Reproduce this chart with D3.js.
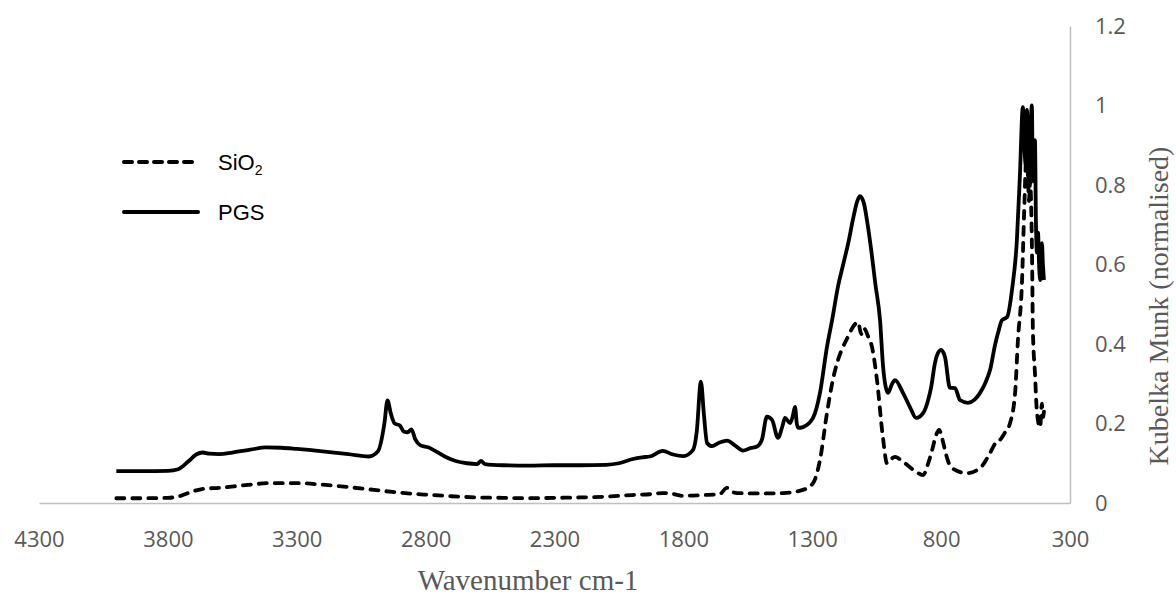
<!DOCTYPE html>
<html>
<head>
<meta charset="utf-8">
<script src="https://cdn.jsdelivr.net/npm/d3@7"></script>
<style>
  body { margin: 0; background: #fff; }
  svg { display: block; }
</style>
</head>
<body>
<svg id="chart" width="1176" height="597"></svg>
<script>
// Diffuse-reflectance spectra, Kubelka-Munk (normalised) vs wavenumber (cm-1)
const pgsWavenumber = [4000, 3900, 3800, 3760, 3720, 3690, 3665, 3640, 3600, 3550, 3480, 3420, 3360, 3300, 3200, 3100, 3020, 2985, 2960, 2948, 2935, 2920, 2900, 2885, 2870, 2855, 2840, 2820, 2790, 2760, 2720, 2680, 2640, 2600, 2585, 2570, 2500, 2400, 2300, 2200, 2100, 2050, 2000, 1960, 1930, 1880, 1840, 1800, 1763, 1748, 1732, 1720, 1708, 1689, 1660, 1631, 1600, 1569, 1540, 1514, 1495, 1476, 1456, 1433, 1415, 1406, 1386, 1375, 1367, 1360, 1355, 1336, 1297, 1270, 1243, 1223, 1200, 1180, 1160, 1140, 1125, 1115, 1100, 1085, 1070, 1055, 1037, 1025, 1006, 990, 979, 948, 920, 897, 870, 850, 839, 824, 810, 800, 785, 766, 746, 727, 696, 670, 649, 630, 610, 590, 579, 564, 544, 525, 506, 494, 483, 477, 472, 467, 460, 455, 448, 444, 440, 436, 432, 428, 424, 420, 416, 412, 409, 405, 401];
const pgsValue = [0.080, 0.080, 0.081, 0.085, 0.105, 0.122, 0.127, 0.124, 0.123, 0.127, 0.134, 0.140, 0.139, 0.136, 0.130, 0.123, 0.117, 0.130, 0.200, 0.258, 0.225, 0.200, 0.195, 0.180, 0.178, 0.185, 0.160, 0.145, 0.140, 0.130, 0.115, 0.105, 0.100, 0.098, 0.106, 0.098, 0.095, 0.094, 0.095, 0.095, 0.096, 0.100, 0.110, 0.115, 0.117, 0.131, 0.122, 0.118, 0.133, 0.180, 0.305, 0.220, 0.151, 0.143, 0.152, 0.157, 0.145, 0.132, 0.138, 0.142, 0.160, 0.217, 0.209, 0.164, 0.195, 0.214, 0.201, 0.220, 0.242, 0.200, 0.189, 0.191, 0.214, 0.277, 0.392, 0.460, 0.545, 0.600, 0.655, 0.720, 0.760, 0.772, 0.755, 0.700, 0.630, 0.550, 0.460, 0.342, 0.277, 0.300, 0.309, 0.277, 0.240, 0.214, 0.226, 0.260, 0.290, 0.352, 0.380, 0.385, 0.367, 0.290, 0.289, 0.259, 0.252, 0.260, 0.277, 0.300, 0.335, 0.400, 0.428, 0.460, 0.468, 0.536, 0.662, 0.830, 0.996, 0.900, 0.850, 0.989, 0.800, 0.900, 1.000, 0.810, 0.900, 0.913, 0.700, 0.630, 0.680, 0.600, 0.561, 0.640, 0.654, 0.600, 0.561];

const sio2Wavenumber = [4000, 3900, 3800, 3750, 3700, 3660, 3600, 3500, 3400, 3300, 3200, 3100, 3000, 2900, 2800, 2700, 2600, 2500, 2400, 2300, 2200, 2100, 2000, 1930, 1880, 1850, 1801, 1724, 1660, 1631, 1610, 1592, 1500, 1413, 1336, 1297, 1270, 1243, 1220, 1200, 1181, 1160, 1142, 1122, 1110, 1100, 1090, 1084, 1068, 1049, 1026, 1010, 995, 979, 960, 940, 900, 870, 850, 835, 820, 808, 795, 785, 770, 758, 700, 649, 610, 590, 572, 550, 533, 513, 502, 486, 478, 467, 459, 455, 447, 444, 436, 428, 416, 409, 405, 401];
const sio2Value = [0.012, 0.012, 0.013, 0.018, 0.030, 0.036, 0.038, 0.045, 0.050, 0.050, 0.046, 0.040, 0.033, 0.026, 0.021, 0.017, 0.014, 0.013, 0.012, 0.013, 0.014, 0.016, 0.020, 0.022, 0.025, 0.024, 0.018, 0.020, 0.022, 0.038, 0.028, 0.025, 0.024, 0.025, 0.033, 0.050, 0.108, 0.226, 0.310, 0.360, 0.392, 0.420, 0.443, 0.455, 0.425, 0.440, 0.430, 0.420, 0.392, 0.310, 0.166, 0.100, 0.110, 0.116, 0.110, 0.100, 0.080, 0.070, 0.100, 0.133, 0.170, 0.184, 0.160, 0.133, 0.100, 0.088, 0.075, 0.088, 0.126, 0.150, 0.158, 0.180, 0.200, 0.277, 0.410, 0.560, 0.730, 0.900, 0.760, 0.810, 0.610, 0.435, 0.327, 0.226, 0.190, 0.250, 0.216, 0.230];

const xTicks = [4300, 3800, 3300, 2800, 2300, 1800, 1300, 800, 300];
const yTicks = [0, 0.2, 0.4, 0.6, 0.8, 1, 1.2];
const xTitle = "Wavenumber cm-1";
const yTitle = "Kubelka Munk (normalised)";

const svg = d3.select("#chart");
const axisGrey = "#bfbfbf";
const labelGrey = "#595959";

const x = d3.scaleLinear().domain([4300, 300]).range([39, 1070]);
const y = d3.scaleLinear().domain([0, 1.2]).range([503, 26]);

// x axis along the bottom (wavenumber decreasing to the right)
const gx = svg.append("g")
  .attr("transform", `translate(0,${y(0)})`)
  .call(d3.axisBottom(x).tickValues(xTicks).tickSize(0).tickSizeOuter(0).tickPadding(28).tickFormat(d3.format("d")));
gx.select(".domain").attr("stroke", axisGrey).attr("stroke-width", 1.5);
gx.selectAll("text")
  .attr("fill", labelGrey)
  .style("font-family", "'Open Sans', sans-serif")
  .style("font-size", "22px");

// y axis on the right
const gy = svg.append("g")
  .attr("transform", `translate(${x(300)},0)`)
  .call(d3.axisRight(y).tickValues(yTicks).tickSize(0).tickSizeOuter(0).tickPadding(25).tickFormat(d3.format("~g")));
gy.select(".domain").attr("stroke", axisGrey).attr("stroke-width", 1.5);
gy.selectAll("text")
  .attr("fill", labelGrey)
  .style("font-family", "'Open Sans', sans-serif")
  .style("font-size", "22px");

// axis titles
svg.append("text")
  .attr("x", 528).attr("y", 590)
  .attr("text-anchor", "middle")
  .attr("fill", labelGrey)
  .style("font-family", "'Liberation Serif', 'Times New Roman', serif")
  .style("font-size", "29px")
  .text(xTitle);

svg.append("text")
  .attr("transform", `translate(1168,306) rotate(-90)`)
  .attr("text-anchor", "middle")
  .attr("fill", labelGrey)
  .style("font-family", "'Liberation Serif', 'Times New Roman', serif")
  .style("font-size", "28px")
  .text(yTitle);

// spectra
const line = d3.line()
  .x(d => x(d[0]))
  .y(d => y(d[1]))
  .curve(d3.curveMonotoneX);

const sio2Data = sio2Wavenumber.map((w, i) => [w, sio2Value[i]]);
const pgsData = pgsWavenumber.map((w, i) => [w, pgsValue[i]]);

svg.append("path")
  .datum(sio2Data)
  .attr("d", line)
  .attr("fill", "none")
  .attr("stroke", "#000")
  .attr("stroke-width", 3.8)
  .attr("stroke-linecap", "round")
  .attr("stroke-dasharray", "8,8");

svg.append("path")
  .datum(pgsData)
  .attr("d", line)
  .attr("fill", "none")
  .attr("stroke", "#000")
  .attr("stroke-width", 3.8)
  .attr("stroke-linejoin", "round");

// legend
const legend = svg.append("g");
legend.append("line")
  .attr("x1", 124).attr("x2", 198).attr("y1", 162).attr("y2", 162)
  .attr("stroke", "#000").attr("stroke-width", 4)
  .attr("stroke-linecap", "round").attr("stroke-dasharray", "8,7");
legend.append("line")
  .attr("x1", 124).attr("x2", 198).attr("y1", 212).attr("y2", 212)
  .attr("stroke", "#000").attr("stroke-width", 4).attr("stroke-linecap", "round");

const sioText = legend.append("text")
  .attr("x", 218).attr("y", 170)
  .style("font-family", "'Liberation Sans', Arial, sans-serif")
  .style("font-size", "22px")
  .attr("fill", "#000");
sioText.append("tspan").text("SiO");
sioText.append("tspan").attr("dy", 5).style("font-size", "14px").text("2");

legend.append("text")
  .attr("x", 218).attr("y", 220)
  .style("font-family", "'Liberation Sans', Arial, sans-serif")
  .style("font-size", "22px")
  .attr("fill", "#000")
  .text("PGS");
</script>
</body>
</html>
